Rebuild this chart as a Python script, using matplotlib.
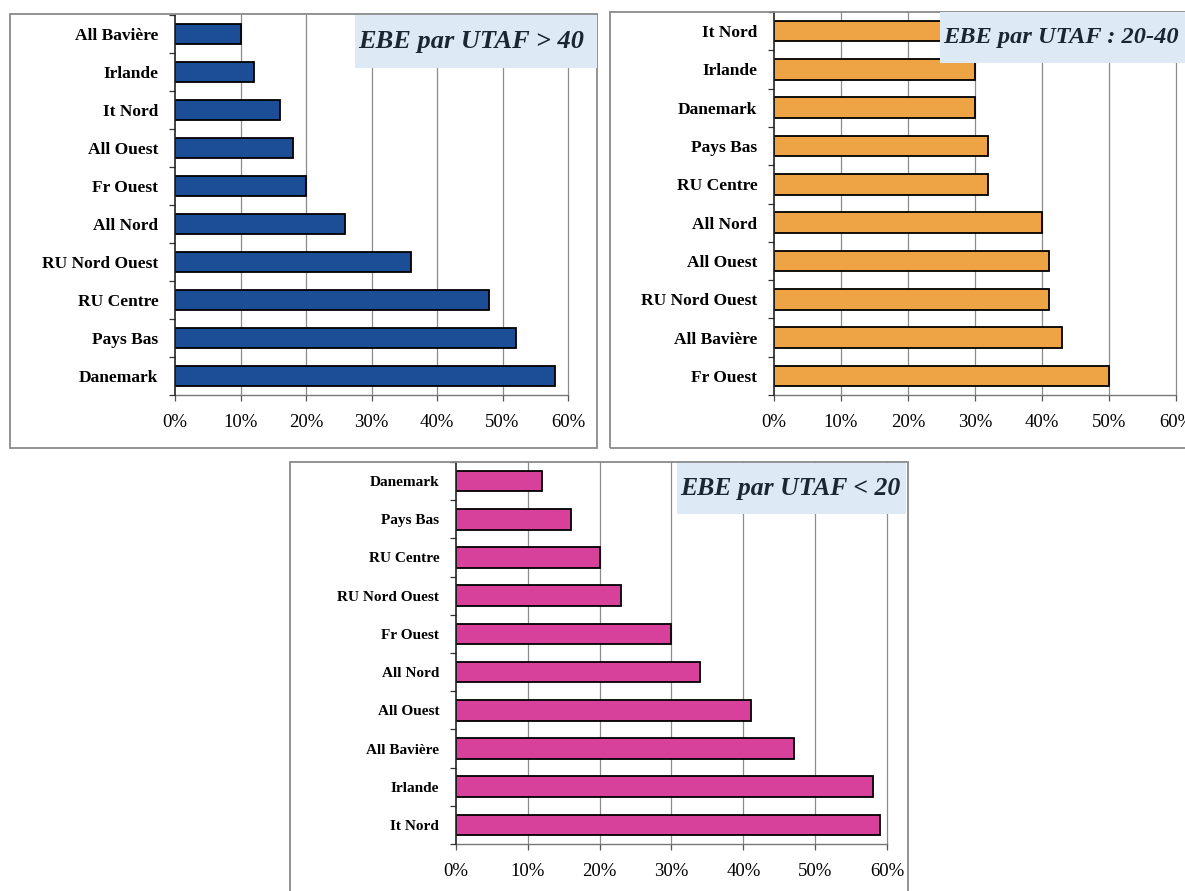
import matplotlib
matplotlib.use("Agg")
import matplotlib.pyplot as plt
from matplotlib.patches import Rectangle
from matplotlib.ticker import FixedLocator, FuncFormatter
import numpy as np

W, H = 1185, 891

# --- data ---------------------------------------------------------------
cats_high = ["All Bavière", "Irlande", "It Nord", "All Ouest", "Fr Ouest",
             "All Nord", "RU Nord Ouest", "RU Centre", "Pays Bas", "Danemark"]
vals_high = [10, 12, 16, 18, 20, 26, 36, 48, 52, 58]

cats_mid = ["It Nord", "Irlande", "Danemark", "Pays Bas", "RU Centre",
            "All Nord", "All Ouest", "RU Nord Ouest", "All Bavière", "Fr Ouest"]
vals_mid = [28, 30, 30, 32, 32, 40, 41, 41, 43, 50]

cats_low = ["Danemark", "Pays Bas", "RU Centre", "RU Nord Ouest", "Fr Ouest",
            "All Nord", "All Ouest", "All Bavière", "Irlande", "It Nord"]
vals_low = [12, 16, 20, 23, 30, 34, 41, 47, 58, 59]

x_ticks = [0, 10, 20, 30, 40, 50, 60]

title_high = "EBE par UTAF > 40"
title_mid = "EBE par UTAF : 20-40"
title_low = "EBE par UTAF < 20"

SERIF = ["Liberation Serif", "DejaVu Serif"]

fig = plt.figure(figsize=(W / 100, H / 100), dpi=100)
fig.patch.set_facecolor("white")


def rect_px(left, top, right, bottom):
    return [left / W, 1 - bottom / H, (right - left) / W, (bottom - top) / H]


def frame(left, top, right, bottom):
    r = Rectangle((left / W, 1 - bottom / H), (right - left) / W,
                  (bottom - top) / H, transform=fig.transFigure,
                  fill=False, edgecolor="#8a8a8a", lw=1.3, zorder=0.5)
    fig.add_artist(r)


def title_box(left, top, right, bottom, text, size):
    r = Rectangle((left / W, 1 - bottom / H), (right - left) / W,
                  (bottom - top) / H, transform=fig.transFigure,
                  facecolor="#dde9f4", edgecolor="none", zorder=5)
    fig.add_artist(r)
    fig.text((left + 3) / W, 1 - ((top + bottom) / 2) / H, text,
             ha="left", va="center", fontsize=size, fontstyle="italic",
             fontweight="bold", family=SERIF, color="#1b2633", zorder=6)


def panel(box, cats, vals, color, label_size):
    ax = fig.add_axes(rect_px(*box))
    y = np.arange(len(cats))
    ax.barh(y, vals, height=0.54, color=color, edgecolor="black",
            linewidth=1.3, zorder=3)
    ax.set_ylim(len(cats) - 0.5, -0.5)
    ax.set_xlim(0, 60)

    ax.set_yticks(y)
    ax.set_yticklabels(cats, fontsize=label_size, fontweight="bold",
                       family=SERIF)
    ax.yaxis.set_minor_locator(FixedLocator(np.arange(len(cats) + 1) - 0.5))
    ax.tick_params(axis="y", which="major", length=0, pad=12)
    ax.tick_params(axis="y", which="minor", length=4, width=0.9,
                   color="#333333", direction="out")

    ax.set_xticks(x_ticks)
    ax.xaxis.set_major_formatter(FuncFormatter(lambda v, p: f"{v:.0f}%"))
    ax.tick_params(axis="x", length=4, width=0.9, color="#555555",
                   pad=10, labelsize=13.5)
    for lab in ax.get_xticklabels():
        lab.set_family(SERIF)

    for xv in x_ticks[1:]:
        ax.axvline(xv, color="#8c8c8c", lw=0.9, zorder=1, clip_on=False)

    for s in ["top", "right"]:
        ax.spines[s].set_visible(False)
    ax.spines["left"].set_color("#222222")
    ax.spines["left"].set_linewidth(1.2)
    ax.spines["left"].set_zorder(4)
    ax.spines["bottom"].set_color("#777777")
    ax.spines["bottom"].set_linewidth(1.0)
    ax.set_facecolor("white")
    return ax


# outer frames
frame(10, 14, 597, 448)
frame(610, 12, 1200, 448)
frame(290, 462, 908, 900)

panel((175, 15, 568, 395), cats_high, vals_high, "#1c4d97", 12.5)
panel((774, 12, 1176, 395), cats_mid, vals_mid, "#eea445", 12.5)
panel((456, 462, 887, 844), cats_low, vals_low, "#d8419b", 11)

title_box(355, 15, 597, 68, title_high, 19)
title_box(940, 12, 1190, 63, title_mid, 17.6)
title_box(677, 463, 906, 514, title_low, 18.5)

fig.savefig("out.png", dpi=100, facecolor="white")
